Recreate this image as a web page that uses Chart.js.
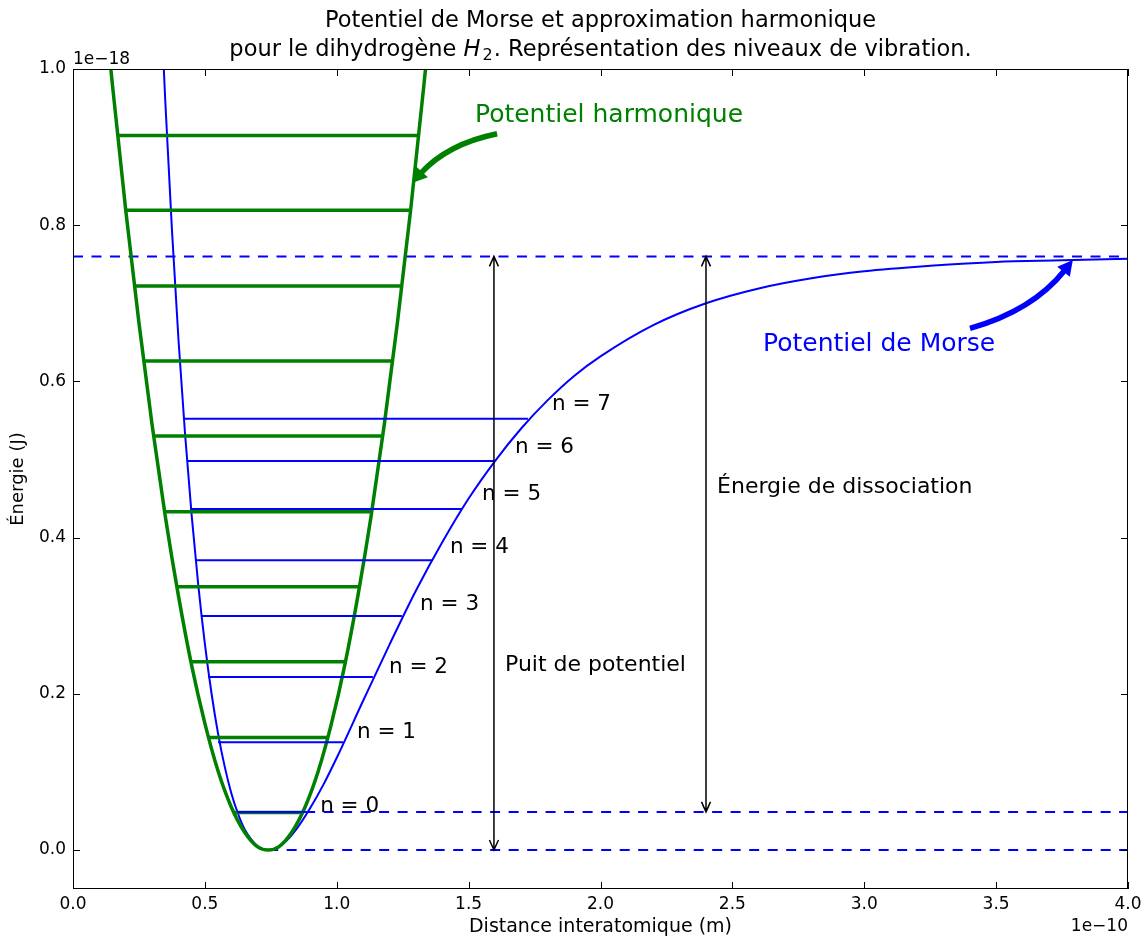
<!DOCTYPE html>
<html>
<head>
<meta charset="utf-8">
<script src="https://cdn.jsdelivr.net/npm/chart.js@4/dist/chart.umd.min.js"></script>
<style>
  html, body { margin: 0; padding: 0; background: #fff; }
  #wrap { width: 1145px; height: 938px; }
</style>
</head>
<body>
<div id="wrap"><canvas id="chart" width="1145" height="938"></canvas></div>
<script>
// distances in 1e-10 m, energies in 1e-18 J
const morseX = [0.33, 0.35, 0.375, 0.40, 0.425, 0.45, 0.475, 0.50, 0.525, 0.55, 0.575, 0.60, 0.625, 0.65, 0.675, 0.70, 0.74, 0.80, 0.85, 0.90, 0.95, 1.00, 1.10, 1.20, 1.30, 1.40, 1.50, 1.60, 1.70, 1.80, 1.90, 2.00, 2.20, 2.40, 2.60, 2.80, 3.00, 3.25, 3.50, 3.75, 4.00];
const morseY = [1.105, 0.958, 0.795, 0.653, 0.532, 0.428, 0.339, 0.264, 0.201, 0.149, 0.107, 0.073, 0.047, 0.027, 0.014, 0.005, 0.0, 0.009, 0.028, 0.054, 0.084, 0.118, 0.191, 0.263, 0.332, 0.394, 0.450, 0.498, 0.540, 0.576, 0.607, 0.632, 0.672, 0.700, 0.719, 0.732, 0.741, 0.748, 0.753, 0.755, 0.757];

const harmX = [0.13, 0.15, 0.20, 0.25, 0.30, 0.35, 0.40, 0.45, 0.50, 0.55, 0.60, 0.65, 0.70, 0.74, 0.78, 0.83, 0.88, 0.93, 0.98, 1.03, 1.08, 1.13, 1.18, 1.23, 1.28, 1.33, 1.35];
const harmY = [1.046, 0.978, 0.819, 0.675, 0.544, 0.427, 0.325, 0.236, 0.162, 0.101, 0.055, 0.023, 0.004, 0.0, 0.004, 0.023, 0.055, 0.101, 0.162, 0.236, 0.325, 0.427, 0.544, 0.675, 0.819, 0.978, 1.046];

// vibration levels
const morseLevelE = [0.0487, 0.138, 0.2215, 0.2996, 0.371, 0.4366, 0.498, 0.552];
const morseLevelLeft = [0.622, 0.550, 0.512, 0.485, 0.463, 0.444, 0.432, 0.417];
const morseLevelRight = [0.880, 1.024, 1.137, 1.247, 1.361, 1.475, 1.596, 1.725];

const harmLevelE = [0.048, 0.144, 0.241, 0.337, 0.433, 0.530, 0.626, 0.722, 0.819, 0.915];
const harmLevelLeft = [0.609, 0.514, 0.447, 0.394, 0.348, 0.306, 0.268, 0.233, 0.200, 0.169];
const harmLevelRight = [0.871, 0.966, 1.033, 1.086, 1.133, 1.174, 1.212, 1.247, 1.280, 1.311];

// dashed reference lines: energy, start x, end x
const dashE = [0.76, 0.0487, 0.0];
const dashFrom = [0.0, 0.88, 0.74];
const dashTo = [4.0, 4.0, 4.0];

// level labels "n = k": left x and y
const nLabelX = [0.937, 1.077, 1.198, 1.316, 1.429, 1.551, 1.676, 1.816];
const nLabelY = [0.056, 0.150, 0.234, 0.314, 0.387, 0.455, 0.516, 0.570];

const xTicks = [0, 0.5, 1.0, 1.5, 2.0, 2.5, 3.0, 3.5, 4.0];
const yTicks = [0, 0.2, 0.4, 0.6, 0.8, 1.0];

const FONT = "'DejaVu Sans', 'Liberation Sans', sans-serif";
const BLUE = '#0000ff';
const GREEN = '#008000';

Chart.defaults.color = '#000';
Chart.defaults.font.family = FONT;

const datasets = [];
datasets.push({
  data: morseX.map((v, i) => ({ x: v, y: morseY[i] })),
  borderColor: BLUE, borderWidth: 2, pointRadius: 0,
  cubicInterpolationMode: 'monotone', order: 3
});
morseLevelE.forEach((e, i) => datasets.push({
  data: [{ x: morseLevelLeft[i], y: e }, { x: morseLevelRight[i], y: e }],
  borderColor: BLUE, borderWidth: 2, pointRadius: 0, order: 1
}));
dashE.forEach((e, i) => datasets.push({
  data: [{ x: dashFrom[i], y: e }, { x: dashTo[i], y: e }],
  borderColor: BLUE, borderWidth: 2, borderDash: [10, 8.5], pointRadius: 0, order: 3
}));
datasets.push({
  data: harmX.map((v, i) => ({ x: v, y: harmY[i] })),
  borderColor: GREEN, borderWidth: 3.5, pointRadius: 0,
  cubicInterpolationMode: 'monotone', order: 2
});
harmLevelE.forEach((e, i) => datasets.push({
  data: [{ x: harmLevelLeft[i], y: e }, { x: harmLevelRight[i], y: e }],
  borderColor: GREEN, borderWidth: 3.5, pointRadius: 0, order: 2
}));

// thick curved annotation arrow (tail -> control -> head), in data units
function curvedArrow(ctx, px, py, t, c, h, color) {
  const tx = px(t[0]), ty = py(t[1]);
  const cx = px(c[0]), cy = py(c[1]);
  const hx = px(h[0]), hy = py(h[1]);
  let dx = hx - cx, dy = hy - cy;
  const len = Math.hypot(dx, dy);
  dx /= len; dy /= len;
  const headLen = 15, headW = 8;
  const bx = hx - dx * headLen, by = hy - dy * headLen;
  ctx.strokeStyle = color;
  ctx.fillStyle = color;
  ctx.lineWidth = 5.5;
  ctx.lineCap = 'butt';
  ctx.beginPath();
  ctx.moveTo(tx, ty);
  ctx.quadraticCurveTo(cx, cy, bx + dx * 2, by + dy * 2);
  ctx.stroke();
  ctx.beginPath();
  ctx.moveTo(hx, hy);
  ctx.lineTo(bx - dy * headW, by + dx * headW);
  ctx.lineTo(bx + dy * headW, by - dx * headW);
  ctx.closePath();
  ctx.fill();
}

// thin vertical double-headed arrow
function doubleArrow(ctx, x, y1, y2) {
  ctx.strokeStyle = '#000';
  ctx.lineWidth = 1.5;
  ctx.beginPath();
  ctx.moveTo(x, y1); ctx.lineTo(x, y2);
  const top = Math.min(y1, y2), bot = Math.max(y1, y2);
  ctx.moveTo(x - 4.5, top + 10); ctx.lineTo(x, top); ctx.lineTo(x + 4.5, top + 10);
  ctx.moveTo(x - 4.5, bot - 10); ctx.lineTo(x, bot); ctx.lineTo(x + 4.5, bot - 10);
  ctx.stroke();
}

const overlay = {
  id: 'overlay',
  afterDraw(chart) {
    const { ctx, chartArea: a, scales: { x, y } } = chart;
    const px = v => x.getPixelForValue(v);
    const py = v => y.getPixelForValue(v);
    ctx.save();

    // frame with inward ticks on all sides
    ctx.strokeStyle = '#000';
    ctx.lineWidth = 1;
    ctx.strokeRect(a.left + 0.5, a.top + 0.5, a.right - a.left - 1, a.bottom - a.top - 1);
    ctx.beginPath();
    xTicks.forEach(v => {
      const p = Math.round(px(v)) + 0.5;
      ctx.moveTo(p, a.bottom); ctx.lineTo(p, a.bottom - 7);
      ctx.moveTo(p, a.top); ctx.lineTo(p, a.top + 7);
    });
    yTicks.forEach(v => {
      const p = Math.round(py(v)) + 0.5;
      ctx.moveTo(a.left, p); ctx.lineTo(a.left + 7, p);
      ctx.moveTo(a.right, p); ctx.lineTo(a.right - 7, p);
    });
    ctx.stroke();

    // offset texts
    ctx.fillStyle = '#000';
    ctx.font = '17px ' + FONT;
    ctx.textBaseline = 'alphabetic';
    ctx.textAlign = 'left';
    ctx.fillText('1e\u221218', a.left, a.top - 5);
    ctx.textAlign = 'right';
    ctx.fillText('1e\u221210', a.right, 931);

    // title (two lines, H2 in math italic)
    const TS = 22.5;
    ctx.textBaseline = 'middle';
    ctx.textAlign = 'center';
    ctx.font = TS + 'px ' + FONT;
    const cxT = (a.left + a.right) / 2;
    ctx.fillText('Potentiel de Morse et approximation harmonique', cxT, 21);
    const pre = 'pour le dihydrog\u00e8ne ';
    const post = '. Repr\u00e9sentation des niveaux de vibration.';
    ctx.textAlign = 'left';
    const wPre = ctx.measureText(pre).width;
    const wPost = ctx.measureText(post).width;
    ctx.font = 'italic ' + TS + 'px ' + FONT;
    const wH = ctx.measureText('H').width;
    ctx.font = '16px ' + FONT;
    const w2 = ctx.measureText('2').width;
    let xs = cxT - (wPre + wH + w2 + 3 + wPost) / 2;
    ctx.font = TS + 'px ' + FONT;
    ctx.fillText(pre, xs, 50); xs += wPre;
    ctx.font = 'italic ' + TS + 'px ' + FONT;
    ctx.fillText('H', xs, 50); xs += wH + 2;
    ctx.font = '16px ' + FONT;
    ctx.fillText('2', xs, 56); xs += w2 + 1;
    ctx.font = TS + 'px ' + FONT;
    ctx.fillText(post, xs, 50);

    // clip annotations to the axes
    ctx.beginPath();
    ctx.rect(a.left, a.top, a.right - a.left, a.bottom - a.top);
    ctx.clip();

    // arrows
    doubleArrow(ctx, px(1.596), py(0), py(0.76));
    doubleArrow(ctx, px(2.40), py(0.0487), py(0.76));
    curvedArrow(ctx, px, py, [1.608, 0.917], [1.420, 0.904], [1.285, 0.854], GREEN);
    curvedArrow(ctx, px, py, [3.401, 0.668], [3.638, 0.6905], [3.791, 0.7554], BLUE);

    // labels
    ctx.textAlign = 'left';
    ctx.textBaseline = 'middle';
    ctx.fillStyle = '#000';
    ctx.font = '21.5px ' + FONT;
    nLabelX.forEach((v, i) => ctx.fillText('n = ' + i, px(v), py(nLabelY[i])));
    ctx.font = '22px ' + FONT;
    ctx.fillText('Puit de potentiel', px(1.638), py(0.237));
    ctx.fillText('\u00c9nergie de dissociation', px(2.442), py(0.465));
    ctx.font = '25px ' + FONT;
    ctx.fillStyle = GREEN;
    ctx.fillText('Potentiel harmonique', px(1.524), py(0.940));
    ctx.fillStyle = BLUE;
    ctx.fillText('Potentiel de Morse', px(2.616), py(0.6466));

    ctx.restore();
  }
};

new Chart(document.getElementById('chart'), {
  type: 'line',
  data: { datasets },
  options: {
    responsive: false,
    animation: false,
    events: [],
    layout: { padding: { top: 69, right: 17, left: 0, bottom: 0 } },
    plugins: { legend: { display: false }, tooltip: { enabled: false }, title: { display: false } },
    scales: {
      x: {
        type: 'linear', min: 0, max: 4,
        afterBuildTicks: s => { s.ticks = xTicks.map(v => ({ value: v })); },
        afterFit: s => { s.height = 49; s.paddingLeft = 0; s.paddingRight = 0; },
        grid: { display: false, drawTicks: false },
        border: { display: false },
        ticks: { font: { size: 17 }, padding: 5, maxRotation: 0, callback: v => v.toFixed(1) },
        title: { display: true, text: 'Distance interatomique (m)', font: { size: 19 }, padding: { top: 0, bottom: 0 } }
      },
      y: {
        type: 'linear', min: -0.05, max: 1.0,
        afterBuildTicks: s => { s.ticks = yTicks.map(v => ({ value: v })); },
        afterFit: s => { s.width = 73; s.paddingTop = 0; s.paddingBottom = 0; },
        grid: { display: false, drawTicks: false },
        border: { display: false },
        ticks: { font: { size: 17 }, padding: 7, callback: v => v.toFixed(1) },
        title: { display: true, text: '\u00c9nergie (J)', font: { size: 18 }, padding: { top: 8, bottom: 0 } }
      }
    }
  },
  plugins: [overlay]
});
</script>
</body>
</html>
